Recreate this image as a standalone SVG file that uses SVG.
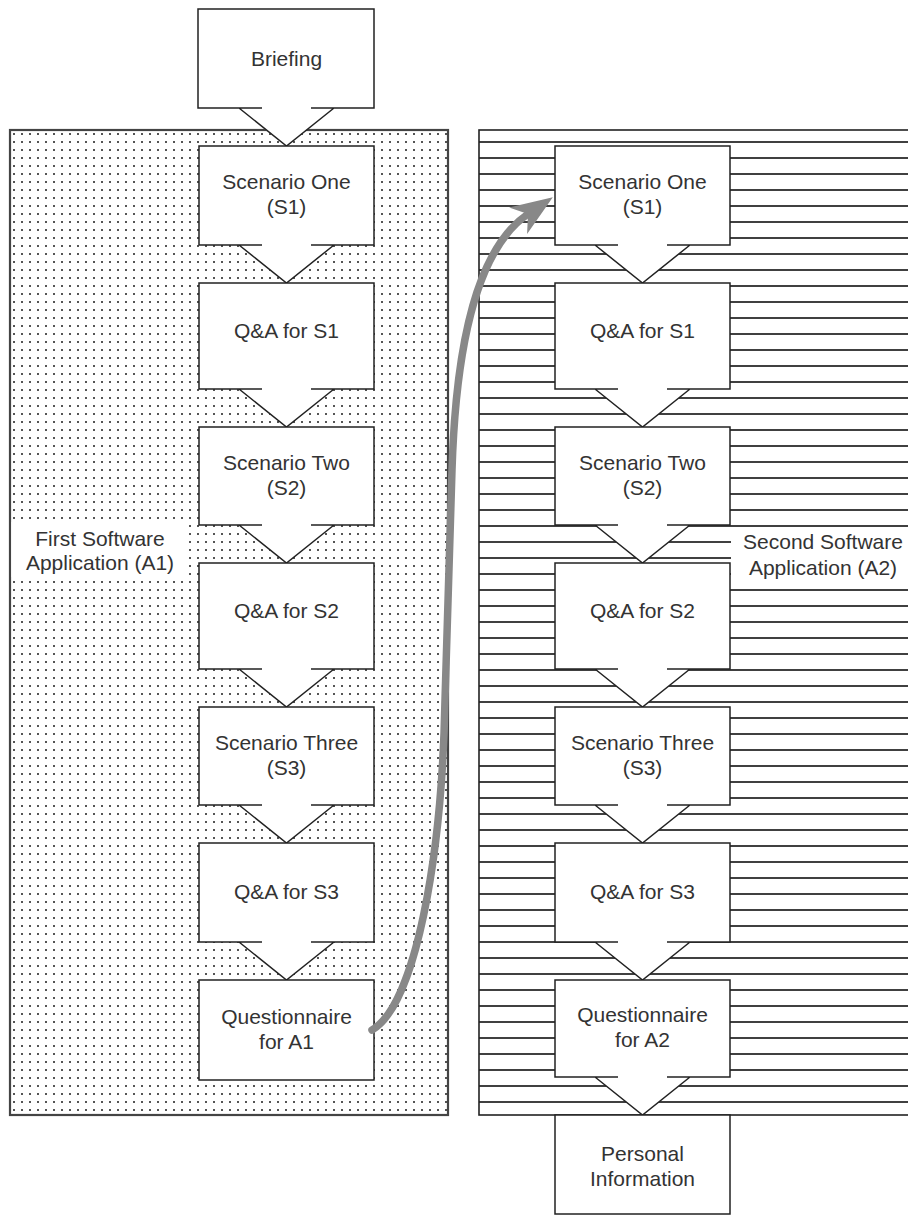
<svg xmlns="http://www.w3.org/2000/svg" width="908" height="1220" viewBox="0 0 908 1220">
<style>
.box{fill:#fff;stroke:none}
.edge{fill:none;stroke:#222;stroke-width:1.5}
.t{font-family:"Liberation Sans",Arial,sans-serif;font-size:21px;fill:#333;text-anchor:middle}
.flow{fill:none;stroke:#888;stroke-width:7.5;stroke-linecap:round}
</style>
<defs>
<pattern id="dots" width="8" height="8" patternUnits="userSpaceOnUse">
<rect width="8" height="8" fill="#fff"/>
<rect x="5" y="5" width="2" height="2" fill="#555"/>
</pattern>
<pattern id="stripes" width="16" height="16" patternUnits="userSpaceOnUse">
<rect width="16" height="16" fill="#fff"/>
<rect x="0" y="13.2" width="16" height="1.6" fill="#111"/>
</pattern>
<marker id="head" markerUnits="userSpaceOnUse" markerWidth="60" markerHeight="40" refX="0" refY="0" orient="auto" overflow="visible" viewBox="-20 -20 60 40">
<path d="M30,0 L-12,-16 L0,0 L-12,16 Z" fill="#888"/>
</marker>
</defs>

<g id="container-a1">
<rect x="10" y="130" width="438" height="985" fill="url(#dots)" stroke="#444" stroke-width="2.2"/>
<rect x="11.5" y="522" width="176" height="55" fill="#fff"/>
<text class="t" x="100" y="546">First Software</text>
<text class="t" x="100" y="570">Application (A1)</text>
</g>

<g id="container-a2">
<rect x="479" y="130" width="440" height="985" fill="url(#stripes)" stroke="#222" stroke-width="1.6"/>
<rect x="731" y="527.5" width="180" height="61.5" fill="#fff"/>
<text class="t" x="823" y="549">Second Software</text>
<text class="t" x="823" y="575">Application (A2)</text>
</g>

<g id="briefing">
<path class="box" d="M198,9 H374 V108 H334 L286,146 L238,108 H198 Z"/>
<path class="edge" d="M262,108 H198 V9 H374 V108 H311 M239,108 L286.5,146 L334,108"/>
<text class="t" x="286.5" y="66">Briefing</text>
</g>

<g id="a1-s1">
<path class="box" d="M199,146 H374 V245 H334 L286.5,283 L239,245 H199 Z"/>
<path class="edge" d="M262,245 H199 V146 H374 V245 H311 M239,245 L286.5,283 L334,245"/>
<text class="t" x="286.5" y="189">Scenario One</text>
<text class="t" x="286.5" y="214">(S1)</text>
</g>

<g id="a1-qa1">
<path class="box" d="M199,283 H374 V389 H334 L286.5,427 L239,389 H199 Z"/>
<path class="edge" d="M262,389 H199 V283 H374 V389 H311 M239,389 L286.5,427 L334,389"/>
<text class="t" x="286.5" y="338">Q&amp;A for S1</text>
</g>

<g id="a1-s2">
<path class="box" d="M199,427 H374 V525 H334 L286.5,563 L239,525 H199 Z"/>
<path class="edge" d="M262,525 H199 V427 H374 V525 H311 M239,525 L286.5,563 L334,525"/>
<text class="t" x="286.5" y="470">Scenario Two</text>
<text class="t" x="286.5" y="495">(S2)</text>
</g>

<g id="a1-qa2">
<path class="box" d="M199,563 H374 V669 H334 L286.5,707 L239,669 H199 Z"/>
<path class="edge" d="M262,669 H199 V563 H374 V669 H311 M239,669 L286.5,707 L334,669"/>
<text class="t" x="286.5" y="618">Q&amp;A for S2</text>
</g>

<g id="a1-s3">
<path class="box" d="M199,707 H374 V805 H334 L286.5,843 L239,805 H199 Z"/>
<path class="edge" d="M262,805 H199 V707 H374 V805 H311 M239,805 L286.5,843 L334,805"/>
<text class="t" x="286.5" y="750">Scenario Three</text>
<text class="t" x="286.5" y="775">(S3)</text>
</g>

<g id="a1-qa3">
<path class="box" d="M199,843 H374 V942 H334 L286.5,980 L239,942 H199 Z"/>
<path class="edge" d="M262,942 H199 V843 H374 V942 H311 M239,942 L286.5,980 L334,942"/>
<text class="t" x="286.5" y="899">Q&amp;A for S3</text>
</g>

<g id="a1-questionnaire">
<rect class="box" x="199" y="980" width="175" height="100"/>
<rect class="edge" x="199" y="980" width="175" height="100"/>
<text class="t" x="286.5" y="1024">Questionnaire</text>
<text class="t" x="286.5" y="1049">for A1</text>
</g>

<g id="a2-s1">
<path class="box" d="M555,146 H730 V245 H690 L642.5,283 L595,245 H555 Z"/>
<path class="edge" d="M618,245 H555 V146 H730 V245 H667 M595,245 L642.5,283 L690,245"/>
<text class="t" x="642.5" y="189">Scenario One</text>
<text class="t" x="642.5" y="214">(S1)</text>
</g>

<g id="a2-qa1">
<path class="box" d="M555,283 H730 V389 H690 L642.5,427 L595,389 H555 Z"/>
<path class="edge" d="M618,389 H555 V283 H730 V389 H667 M595,389 L642.5,427 L690,389"/>
<text class="t" x="642.5" y="338">Q&amp;A for S1</text>
</g>

<g id="a2-s2">
<path class="box" d="M555,427 H730 V525 H690 L642.5,563 L595,525 H555 Z"/>
<path class="edge" d="M618,525 H555 V427 H730 V525 H667 M595,525 L642.5,563 L690,525"/>
<text class="t" x="642.5" y="470">Scenario Two</text>
<text class="t" x="642.5" y="495">(S2)</text>
</g>

<g id="a2-qa2">
<path class="box" d="M555,563 H730 V669 H690 L642.5,707 L595,669 H555 Z"/>
<path class="edge" d="M618,669 H555 V563 H730 V669 H667 M595,669 L642.5,707 L690,669"/>
<text class="t" x="642.5" y="618">Q&amp;A for S2</text>
</g>

<g id="a2-s3">
<path class="box" d="M555,707 H730 V805 H690 L642.5,843 L595,805 H555 Z"/>
<path class="edge" d="M618,805 H555 V707 H730 V805 H667 M595,805 L642.5,843 L690,805"/>
<text class="t" x="642.5" y="750">Scenario Three</text>
<text class="t" x="642.5" y="775">(S3)</text>
</g>

<g id="a2-qa3">
<path class="box" d="M555,843 H730 V942 H690 L642.5,980 L595,942 H555 Z"/>
<path class="edge" d="M618,942 H555 V843 H730 V942 H667 M595,942 L642.5,980 L690,942"/>
<text class="t" x="642.5" y="899">Q&amp;A for S3</text>
</g>

<g id="a2-questionnaire">
<path class="box" d="M555,980 H730 V1077 H690 L642.5,1115 L595,1077 H555 Z"/>
<path class="edge" d="M618,1077 H555 V980 H730 V1077 H667 M595,1077 L642.5,1115 L690,1077"/>
<text class="t" x="642.5" y="1022">Questionnaire</text>
<text class="t" x="642.5" y="1047">for A2</text>
</g>

<g id="personal-information">
<rect class="box" x="555" y="1115" width="175" height="99"/>
<rect class="edge" x="555" y="1115" width="175" height="99"/>
<text class="t" x="642.5" y="1161">Personal</text>
<text class="t" x="642.5" y="1186">Information</text>
</g>

<g id="connectors">
<path class="flow" d="M372,1030 C415,1005 442,860 445,700 L452,470 C456,340 478,248 528,214" marker-end="url(#head)"/>
</g>
</svg>
